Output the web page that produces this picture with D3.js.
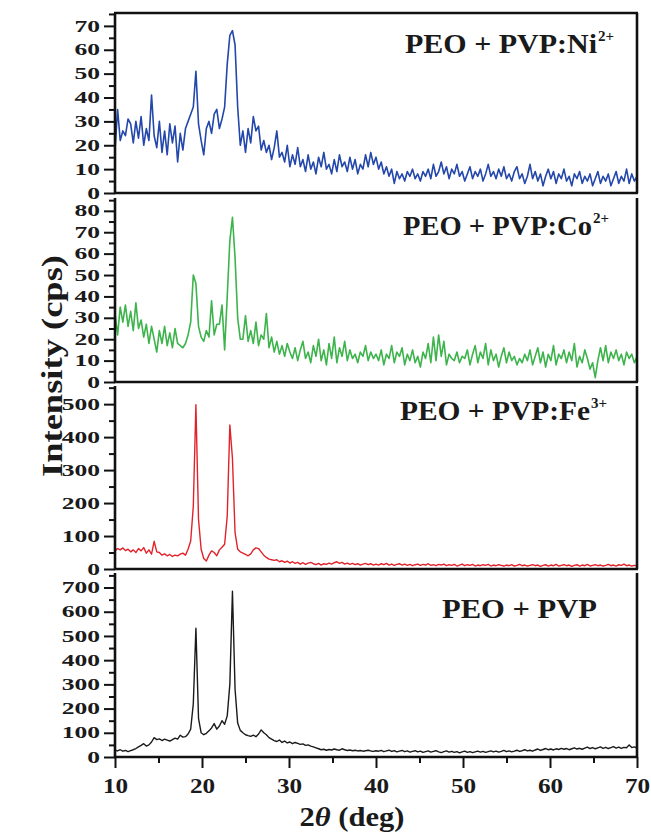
<!DOCTYPE html>
<html>
<head>
<meta charset="utf-8">
<script src="https://cdn.jsdelivr.net/npm/d3@7"></script>
<style>
  body { margin: 0; background: #fff; }
  text { font-family: "Liberation Serif", "Times New Roman", serif; font-weight: bold; fill: #1a1a1a; }
</style>
</head>
<body>
<div id="chart"></div>
<script>
// DATA
var angleStart = 10, angleStep = 0.3;

var niValues = [
  18,35,22,26,24,31,29,21,30,23,
  32,20,27,22,41,24,19,30,17,26,
  16,29,21,28,13,25,18,27,30,33,
  36,51,29,22,16,27,30,25,33,35,
  27,31,36,54,66,68,62,36,20,26,
  17,27,21,32,26,28,18,22,17,20,
  14,19,26,15,17,13,20,11,16,12,
  19,11,14,9,16,10,13,8,15,11,
  17,10,12,8,14,9,16,11,13,9,
  15,10,14,8,12,10,16,11,17,12,
  15,10,13,8,11,7,10,4,9,6,
  8,5,9,7,10,6,8,5,9,7,
  10,6,12,7,9,13,8,11,6,10,
  8,12,7,9,5,8,11,6,9,7,
  10,5,8,12,7,9,6,10,7,11,
  6,8,5,9,11,6,8,4,7,12,
  6,9,5,8,3,7,10,6,9,4,
  8,6,10,5,7,3,8,6,9,4,
  7,5,8,3,6,9,4,7,5,8,
  3,6,9,4,7,5,10,4,8,5,
  7
];

var coValues = [
  32,22,35,28,36,26,33,24,37,25,
  29,21,27,18,26,20,14,24,18,26,
  17,23,16,25,18,17,16,18,22,28,
  50,46,26,21,19,24,21,38,22,27,
  27,36,15,40,66,77,58,30,20,20,
  31,19,24,18,28,17,22,20,32,16,
  21,14,19,13,17,12,18,14,11,16,
  10,15,19,11,14,9,17,12,20,10,
  15,8,18,11,21,9,16,12,19,10,
  15,11,13,9,14,12,17,10,14,11,
  13,10,15,8,13,11,17,9,14,12,
  16,8,13,10,15,9,12,7,14,11,
  18,9,21,10,22,12,19,8,13,11,
  10,14,9,12,11,15,8,13,17,9,
  14,11,18,8,15,10,13,7,12,16,
  9,14,10,12,8,11,9,13,10,15,
  8,12,16,9,14,7,13,10,17,8,
  13,11,15,9,14,10,18,7,12,9,
  15,11,6,9,2,10,16,10,17,9,
  14,11,15,10,13,8,14,11,13,9,
  12
];

var feValues = [
  55,62,58,64,56,60,52,58,50,62,
  55,65,48,58,45,84,52,50,42,46,
  40,44,38,42,40,45,48,42,60,85,
  190,498,150,60,32,24,42,55,50,40,
  58,66,75,160,437,335,110,60,52,48,
  44,40,46,58,64,62,52,42,35,30,
  28,26,28,22,25,20,24,18,22,17,
  20,15,19,14,18,20,16,13,17,12,
  16,14,18,15,19,22,17,20,15,18,
  14,17,13,16,12,15,17,13,16,12,
  15,12,16,13,17,12,15,11,14,16,
  12,15,11,14,10,13,15,11,14,12,
  16,11,13,10,14,12,15,10,13,11,
  14,9,12,15,10,13,11,14,9,12,
  10,13,11,14,9,12,10,13,11,9,
  12,10,13,9,11,14,10,12,9,11,
  13,10,12,8,11,13,9,12,10,14,
  9,11,13,10,12,8,11,13,9,12,
  10,14,9,11,13,10,12,9,11,14,
  10,12,9,13,11,15,10,12,9,11,
  10
];

var pvpValues = [
  28,25,30,24,27,22,26,30,35,42,
  48,55,45,50,62,80,72,75,68,74,
  70,66,72,78,74,90,82,84,95,115,
  220,532,160,100,92,98,108,120,138,115,
  128,150,135,170,300,685,280,140,110,100,
  92,88,85,90,84,95,112,100,92,80,
  74,68,64,70,60,66,58,62,55,60,
  56,52,54,48,50,45,42,38,34,30,
  32,28,31,29,33,30,28,34,30,27,
  29,26,28,25,27,24,26,28,25,23,
  26,24,27,22,25,28,23,26,21,24,
  27,22,25,20,23,26,21,24,19,22,
  25,20,23,26,21,18,22,25,20,23,
  19,22,17,21,24,19,22,18,21,24,
  20,23,19,22,25,21,24,20,23,27,
  22,25,21,24,28,23,26,30,25,28,
  24,29,33,27,31,35,30,33,29,34,
  31,36,32,35,30,34,38,33,36,32,
  37,41,35,39,34,38,42,36,40,35,
  39,43,37,41,36,40,38,50,39,42,
  37
];

var twoTheta = niValues.map(function(d, i) { return angleStart + i * angleStep; });

var panelNames = ["PEO + PVP:Ni", "PEO + PVP:Co", "PEO + PVP:Fe", "PEO + PVP"];
var panelIons = ["2+", "2+", "3+", ""];
var panelSeries = [niValues, coValues, feValues, pvpValues];
var panelColors = ["#2347aa", "#3db44b", "#e2222b", "#1a1a1a"];

// y ranges and ticks of the four stacked panels
var yTops = [75.4, 86, 555, 760];
var yMajorTicks = [
  [0, 10, 20, 30, 40, 50, 60, 70],
  [0, 10, 20, 30, 40, 50, 60, 70, 80],
  [0, 100, 200, 300, 400, 500],
  [0, 100, 200, 300, 400, 500, 600, 700]
];
var yMinorTicks = [
  [5, 15, 25, 35, 45, 55, 65, 75],
  [5, 15, 25, 35, 45, 55, 65, 75, 85],
  [50, 150, 250, 350, 450, 550],
  [50, 150, 250, 350, 450, 550, 650, 750]
];
var xMajorTicks = [10, 20, 30, 40, 50, 60, 70];
var xMinorTicks = [15, 25, 35, 45, 55, 65];

// SET UP
var width = 651, height = 833;
var frame = {left: 115, right: 637};
var panelBox = [
  {top: 13, bottom: 193},
  {top: 198, bottom: 382},
  {top: 386, bottom: 569},
  {top: 573, bottom: 757}
];
// left edge, baseline and width of each sample label (without the superscript)
var labelPos = [
  {x: 405, y: 53, w: 192},
  {x: 403, y: 235, w: 189},
  {x: 400, y: 420, w: 190},
  {x: 442, y: 618, w: 155}
];

var svg = d3.select("#chart").append("svg")
    .attr("width", width)
    .attr("height", height);

var xScale = d3.scaleLinear()
    .domain([10, 70])
    .range([frame.left, frame.right]);

// PANELS
panelSeries.forEach(function(values, p) {
    var box = panelBox[p];
    var yScale = d3.scaleLinear()
        .domain([0, yTops[p]])
        .range([box.bottom, box.top]);

    var g = svg.append("g").attr("class", "panel");

    // Data trace
    var line = d3.line()
        .x(function(d, i) { return xScale(twoTheta[i]); })
        .y(function(d) { return yScale(d); });

    g.append("path")
        .datum(values)
        .attr("fill", "none")
        .attr("stroke", panelColors[p])
        .attr("stroke-width", p < 2 ? 1.6 : 1.4)
        .attr("stroke-linejoin", "round")
        .attr("d", line);

    // Minor y ticks
    var minorAxis = g.append("g")
        .attr("transform", "translate(" + frame.left + ",0)")
        .call(d3.axisLeft(yScale).tickValues(yMinorTicks[p]).tickSize(6).tickFormat(""));
    minorAxis.select(".domain").remove();

    // Major y ticks
    var yAxis = g.append("g")
        .attr("transform", "translate(" + frame.left + ",0)")
        .call(d3.axisLeft(yScale).tickValues(yMajorTicks[p]).tickSize(11));
    yAxis.select(".domain").remove();
    yAxis.selectAll("text")
        .attr("x", -15 / 1.6)
        .attr("transform", "scale(1.6,1)")
        .style("font-size", "16px");

    g.selectAll(".tick line").attr("stroke", "#111").attr("stroke-width", 2);

    // Frame: left, right, bottom (plus top on first panel)
    var edges = [
        [frame.left, box.top, frame.left, box.bottom],
        [frame.right, box.top, frame.right, box.bottom],
        [frame.left - 1, box.bottom, frame.right + 1, box.bottom]
    ];
    if (p === 0) edges.push([frame.left - 1, box.top, frame.right + 1, box.top]);
    g.selectAll(".edge")
        .data(edges)
        .join("line")
        .attr("class", "edge")
        .attr("x1", function(d) { return d[0]; })
        .attr("y1", function(d) { return d[1]; })
        .attr("x2", function(d) { return d[2]; })
        .attr("y2", function(d) { return d[3]; })
        .attr("stroke", "#111")
        .attr("stroke-width", 2.6);

    // Sample label with ion superscript
    var lp = labelPos[p];
    g.append("text")
        .attr("x", lp.x)
        .attr("y", lp.y)
        .attr("textLength", lp.w)
        .attr("lengthAdjust", "spacingAndGlyphs")
        .style("font-size", "28px")
        .text(panelNames[p]);
    if (panelIons[p]) {
        g.append("text")
            .attr("x", lp.x + lp.w + 1)
            .attr("y", lp.y - 12)
            .style("font-size", "15px")
            .text(panelIons[p]);
    }
});

// X AXIS (bottom panel only)
var bottomY = panelBox[3].bottom;

var xMinor = svg.append("g")
    .attr("transform", "translate(0," + bottomY + ")")
    .call(d3.axisBottom(xScale).tickValues(xMinorTicks).tickSize(6).tickFormat(""));
xMinor.select(".domain").remove();

var xAxis = svg.append("g")
    .attr("transform", "translate(0," + bottomY + ")")
    .call(d3.axisBottom(xScale).tickValues(xMajorTicks).tickSize(11));
xAxis.select(".domain").remove();
xAxis.selectAll("text")
    .attr("y", 36)
    .attr("dy", 0)
    .attr("transform", "scale(1.2,1)")
    .style("font-size", "21px");

svg.selectAll(".tick line").attr("stroke", "#111").attr("stroke-width", 2);

// AXIS TITLES
svg.append("text")
    .attr("transform", "translate(62,366) rotate(-90)")
    .attr("text-anchor", "middle")
    .attr("textLength", 222)
    .attr("lengthAdjust", "spacingAndGlyphs")
    .style("font-size", "29px")
    .text("Intensity (cps)");

var xTitle = svg.append("text")
    .attr("x", 352)
    .attr("y", 826)
    .attr("text-anchor", "middle")
    .attr("textLength", 105)
    .attr("lengthAdjust", "spacingAndGlyphs")
    .style("font-size", "27px");
xTitle.append("tspan").text("2");
xTitle.append("tspan").style("font-style", "italic").text("θ");
xTitle.append("tspan").text(" (deg)");
</script>
</body>
</html>
